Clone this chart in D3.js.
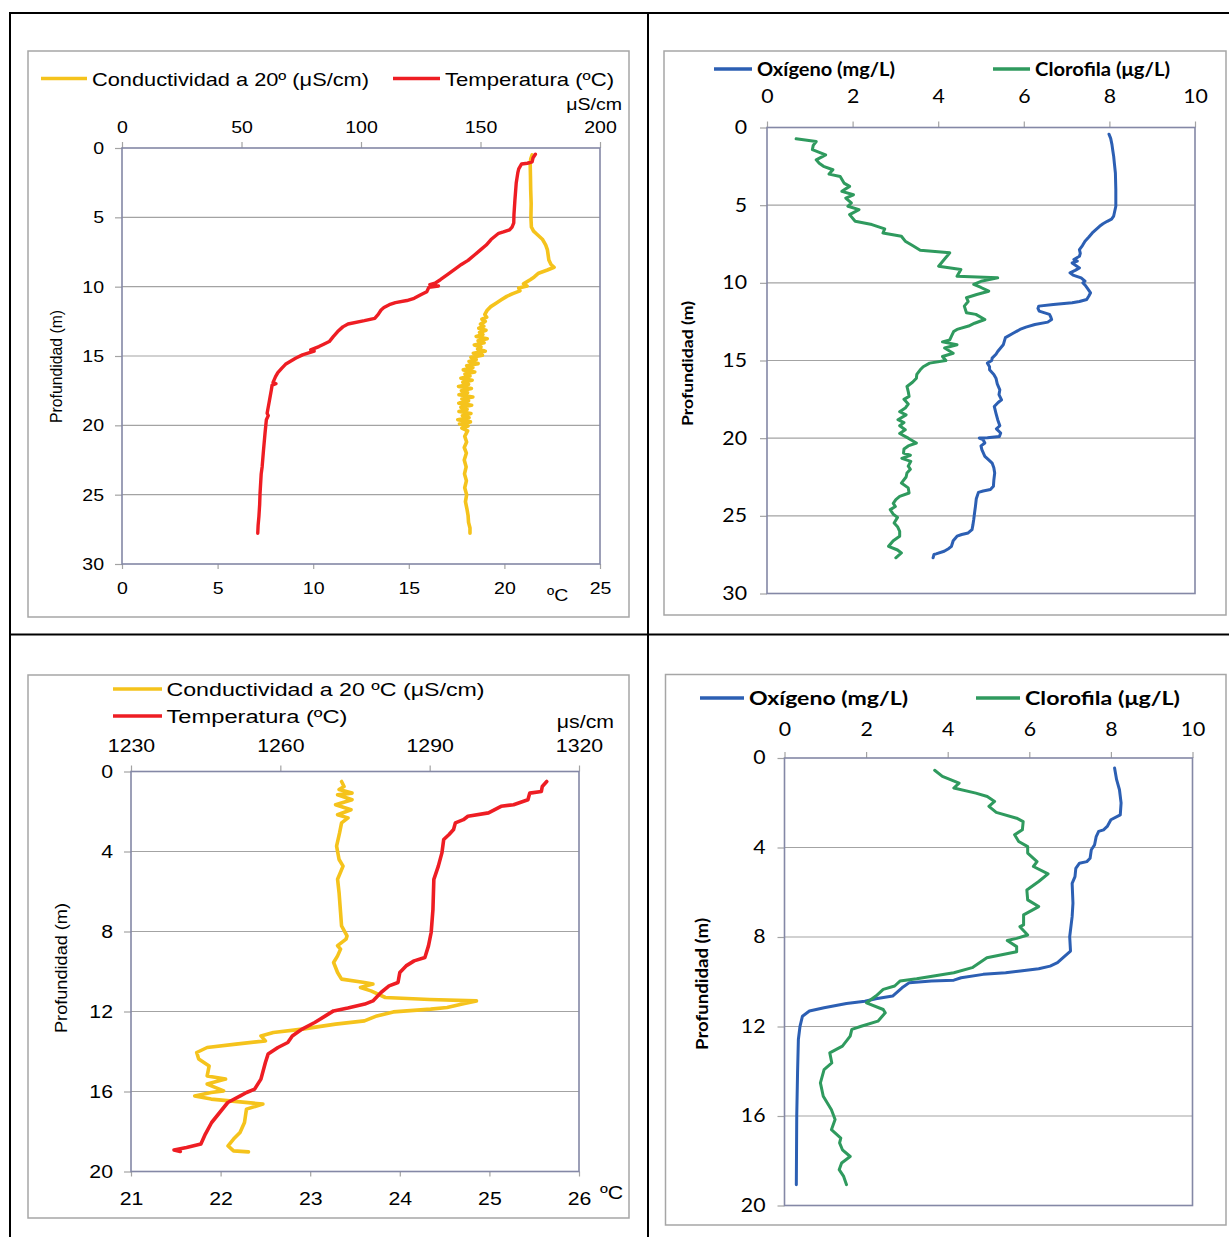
<!DOCTYPE html>
<html><head><meta charset="utf-8">
<script src="https://cdn.jsdelivr.net/npm/d3@7"></script>
<style>body{margin:0;background:#fff}svg{display:block}</style>
</head><body>
<svg id="c" width="1229" height="1237"></svg>
<script>
// ---------------- DATA ([profundidad m, valor]) ----------------
const p1Conductividad = [[0.5,171.6],[0.8,171.0],[1.2,170.8],[2.0,170.9],[3.0,171.0],[4.0,171.2],[5.0,171.1],[5.7,171.3],[6.0,172.2],[6.2,173.5],[6.6,176.0],[7.0,177.3],[7.35,178.0],[8.07,178.6],[8.4,179.5],[8.6,180.8],[8.8,178.0],[9.03,174.3],[9.3,172.5],[9.5,170.8],[9.8,168.0],[9.95,169.5],[10.1,166.0],[10.3,166.5],[10.5,163.5],[10.7,161.0],[10.95,158.7],[11.2,156.5],[11.44,154.3],[11.7,152.8],[12.0,151.8],[12.2,152.6],[12.35,150.6],[12.5,152.0],[12.7,150.0],[12.85,151.4],[13.0,149.3],[13.15,152.3],[13.3,149.6],[13.45,151.0],[13.6,148.2],[13.75,152.8],[13.9,149.0],[14.05,151.5],[14.2,147.4],[14.35,150.2],[14.5,148.8],[14.65,152.0],[14.8,147.0],[14.95,150.8],[15.1,146.0],[15.25,148.2],[15.4,145.2],[15.55,149.0],[15.7,144.2],[15.85,146.8],[16.0,142.8],[16.15,147.6],[16.3,143.5],[16.45,145.6],[16.6,141.8],[16.75,146.5],[16.9,142.6],[17.05,145.0],[17.2,140.8],[17.35,146.2],[17.5,142.0],[17.65,144.6],[17.8,141.0],[17.95,146.8],[18.1,142.2],[18.25,145.0],[18.4,140.9],[18.55,146.3],[18.7,141.8],[18.85,144.4],[19.0,141.0],[19.15,146.0],[19.3,142.4],[19.45,145.2],[19.6,140.5],[19.75,145.8],[19.9,141.2],[20.05,144.8],[20.2,142.2],[20.4,144.6],[20.8,143.4],[21.2,144.2],[21.6,143.2],[22.0,144.1],[22.5,143.2],[23.0,144.0],[23.5,143.3],[24.0,144.1],[24.5,143.4],[25.0,144.2],[25.5,143.7],[26.0,144.3],[26.5,144.8],[27.0,145.0],[27.4,145.6],[27.78,145.6]];
const p1Temperatura = [[0.45,21.62],[0.7,21.5],[1.0,21.45],[1.1,21.2],[1.15,20.9],[1.5,20.75],[1.8,20.7],[2.5,20.62],[3.75,20.55],[4.8,20.5],[5.4,20.49],[5.7,20.4],[5.9,20.27],[6.05,19.95],[6.15,19.7],[6.6,19.3],[7.0,19.05],[7.35,18.75],[7.7,18.45],[8.1,18.1],[8.4,17.75],[8.7,17.45],[9.15,17.0],[9.5,16.65],[9.75,16.37],[9.85,16.1],[9.95,16.55],[10.05,16.05],[10.36,15.94],[10.6,15.6],[10.84,15.28],[11.0,14.9],[11.15,14.3],[11.3,13.98],[11.5,13.7],[11.68,13.55],[12.0,13.4],[12.28,13.22],[12.45,12.68],[12.69,11.82],[12.9,11.55],[13.24,11.28],[13.6,11.05],[13.96,10.84],[14.15,10.55],[14.32,10.3],[14.56,9.87],[14.65,10.05],[14.92,9.44],[15.15,9.1],[15.4,8.79],[15.6,8.55],[15.89,8.35],[16.2,8.15],[16.49,8.03],[16.9,7.9],[17.0,8.05],[17.1,7.85],[17.45,7.81],[18.3,7.7],[19.13,7.59],[19.3,7.65],[19.6,7.55],[20.57,7.48],[21.8,7.4],[22.98,7.33],[23.5,7.28],[24.9,7.22],[25.7,7.2],[26.58,7.16],[27.2,7.12],[27.78,7.1]];

const p2Oxigeno = [[0.43,7.99],[0.7,8.03],[1.1,8.06],[1.5,8.08],[1.86,8.1],[2.4,8.12],[2.93,8.14],[4.0,8.15],[5.07,8.15],[5.7,8.1],[5.9,8.05],[6.04,7.95],[6.2,7.85],[6.36,7.77],[6.79,7.6],[7.05,7.52],[7.32,7.43],[7.6,7.37],[7.86,7.3],[8.1,7.32],[8.29,7.3],[8.5,7.17],[8.6,7.25],[8.72,7.13],[9.04,7.3],[9.2,7.2],[9.36,7.08],[9.5,7.15],[9.68,7.34],[9.89,7.43],[10.0,7.38],[10.21,7.45],[10.4,7.5],[10.64,7.56],[10.85,7.52],[11.07,7.47],[11.2,7.3],[11.28,7.13],[11.39,6.69],[11.5,6.35],[11.65,6.33],[11.82,6.36],[12.03,6.6],[12.2,6.63],[12.36,6.65],[12.53,6.56],[12.68,6.26],[12.85,6.05],[13.0,5.91],[13.25,5.75],[13.53,5.57],[13.99,5.52],[14.42,5.39],[14.6,5.35],[14.85,5.26],[15.0,5.25],[15.17,5.15],[15.4,5.2],[15.6,5.2],[15.9,5.3],[16.14,5.35],[16.5,5.38],[16.89,5.44],[17.2,5.42],[17.53,5.48],[17.7,5.4],[17.96,5.31],[18.4,5.35],[18.81,5.39],[19.2,5.44],[19.4,5.36],[19.67,5.46],[19.89,5.43],[19.97,5.15],[19.99,4.96],[20.1,5.05],[20.31,5.09],[20.5,5.0],[20.74,5.02],[21.17,5.09],[21.4,5.18],[21.6,5.26],[21.9,5.3],[22.24,5.32],[22.7,5.3],[23.1,5.29],[23.31,5.22],[23.4,5.05],[23.49,4.94],[23.9,4.89],[24.39,4.87],[24.8,4.85],[25.24,4.83],[25.6,4.81],[25.89,4.79],[26.1,4.7],[26.2,4.55],[26.31,4.44],[26.6,4.35],[26.96,4.31],[27.1,4.25],[27.28,4.14],[27.45,3.95],[27.49,3.9],[27.7,3.88]];
const p2Clorofila = [[0.73,0.68],[0.9,1.15],[1.15,1.08],[1.43,1.06],[1.76,1.37],[2.08,1.15],[2.3,1.22],[2.5,1.32],[2.72,1.54],[3.0,1.45],[3.15,1.71],[3.58,1.8],[3.79,1.93],[4.11,1.75],[4.33,2.02],[4.54,1.84],[4.86,1.97],[5.07,1.89],[5.29,2.15],[5.61,1.93],[6.04,2.06],[6.25,2.45],[6.53,2.75],[6.79,2.71],[7.0,3.14],[7.32,3.23],[7.6,3.4],[7.9,3.58],[8.07,4.27],[8.5,4.14],[8.93,4.01],[9.14,4.53],[9.57,4.44],[9.68,5.39],[9.9,5.0],[10.1,4.83],[10.3,5.0],[10.54,5.18],[10.75,4.9],[10.96,4.66],[11.2,4.7],[11.5,4.61],[11.93,4.66],[12.03,4.88],[12.36,5.09],[12.6,4.85],[12.78,4.71],[13.0,4.44],[13.14,4.36],[13.43,4.31],[13.67,4.27],[13.8,4.1],[13.99,4.44],[14.2,4.15],[14.53,4.35],[14.74,4.1],[15.0,4.18],[15.17,3.8],[15.4,3.65],[15.6,3.58],[15.9,3.5],[16.14,3.49],[16.4,3.4],[16.67,3.27],[17.0,3.3],[17.31,3.32],[17.5,3.2],[17.8,3.3],[18.06,3.23],[18.3,3.1],[18.5,3.25],[18.81,3.06],[19.0,3.2],[19.2,3.1],[19.46,3.23],[19.7,3.1],[20.0,3.3],[20.31,3.49],[20.5,3.3],[20.7,3.2],[20.96,3.19],[21.1,3.35],[21.3,3.15],[21.49,3.36],[21.8,3.3],[22.0,3.35],[22.24,3.27],[22.5,3.25],[22.89,3.14],[23.2,3.3],[23.53,3.32],[23.75,3.1],[23.96,3.01],[24.2,2.95],[24.4,3.0],[24.6,2.88],[24.9,2.95],[25.1,3.05],[25.46,2.97],[25.7,3.05],[26.0,3.1],[26.31,3.1],[26.6,2.95],[26.96,2.84],[27.2,3.05],[27.39,3.14],[27.7,3.01]];

const p3Conductividad = [[0.5,1272.3],[0.75,1272.8],[0.9,1271.8],[1.08,1274.4],[1.16,1271.5],[1.41,1274.4],[1.66,1271.1],[1.91,1274.2],[2.16,1271.5],[2.32,1273.6],[2.57,1272.3],[3.07,1271.9],[3.73,1271.3],[4.4,1271.8],[4.73,1272.6],[5.39,1271.5],[6.06,1271.8],[7.05,1272.1],[7.72,1272.3],[8.22,1273.4],[8.38,1273.2],[8.71,1271.5],[8.88,1272.1],[9.22,1271.5],[9.55,1270.7],[10.05,1271.5],[10.38,1272.3],[10.55,1276.9],[10.63,1278.6],[10.8,1276.1],[10.97,1278.2],[11.3,1281.1],[11.4,1290.0],[11.47,1299.4],[11.6,1297.0],[11.8,1293.5],[11.88,1290.2],[12.02,1282.7],[12.22,1279.4],[12.47,1276.9],[12.63,1271.1],[12.88,1264.4],[13.05,1258.6],[13.22,1256.1],[13.47,1257.0],[13.63,1251.1],[13.8,1245.3],[14.05,1243.2],[14.38,1243.6],[14.72,1245.7],[15.22,1245.3],[15.38,1249.0],[15.63,1245.3],[15.97,1248.6],[16.05,1246.1],[16.22,1242.8],[16.38,1246.1],[16.63,1256.5],[16.88,1253.2],[17.55,1252.8],[18.05,1251.9],[18.38,1250.6],[18.72,1249.5],[18.97,1250.6],[19.02,1253.6]];
const p3Temperatura = [[0.5,25.64],[0.75,25.59],[1.0,25.58],[1.08,25.45],[1.41,25.43],[1.66,25.27],[1.74,25.13],[2.07,24.99],[2.24,24.76],[2.41,24.71],[2.57,24.62],[2.9,24.6],[3.15,24.55],[3.4,24.49],[4.07,24.47],[4.73,24.43],[5.39,24.38],[6.89,24.37],[8.05,24.35],[8.72,24.32],[9.3,24.28],[9.47,24.16],[9.72,24.07],[10.05,24.0],[10.55,23.98],[10.72,23.88],[11.05,23.79],[11.47,23.7],[11.63,23.61],[11.83,23.42],[11.97,23.26],[12.22,23.17],[12.55,23.05],[12.88,22.91],[13.22,22.8],[13.55,22.75],[13.8,22.64],[14.13,22.53],[14.55,22.5],[15.38,22.45],[15.88,22.38],[16.05,22.29],[16.22,22.22],[16.55,22.08],[17.05,21.99],[17.55,21.9],[18.13,21.83],[18.63,21.78],[18.8,21.62],[18.92,21.48],[19.0,21.55]];

const p4Oxigeno = [[0.45,8.09],[0.97,8.14],[1.42,8.21],[2.01,8.25],[2.54,8.23],[2.76,8.0],[3.06,7.91],[3.21,7.82],[3.28,7.7],[3.51,7.64],[3.88,7.6],[4.1,7.52],[4.48,7.49],[4.63,7.41],[4.7,7.23],[4.93,7.14],[5.3,7.12],[5.6,7.05],[6.49,7.07],[7.09,7.05],[7.99,6.99],[8.63,7.01],[8.85,6.87],[9.15,6.69],[9.3,6.51],[9.42,6.23],[9.52,5.78],[9.6,5.42],[9.67,4.87],[9.82,4.33],[9.93,4.15],[9.97,3.6],[10.04,3.06],[10.27,2.88],[10.64,2.65],[10.76,2.24],[10.87,1.97],[10.97,1.52],[11.16,0.97],[11.31,0.61],[11.54,0.44],[11.99,0.38],[12.58,0.34],[14.07,0.32],[16.01,0.3],[19.07,0.29]];
const p4Clorofila = [[0.55,3.68],[0.82,3.87],[1.12,4.28],[1.34,4.15],[1.57,4.69],[1.72,4.97],[1.94,5.15],[2.16,5.01],[2.43,5.19],[2.69,5.69],[2.84,5.85],[3.21,5.83],[3.43,5.64],[3.73,5.74],[3.96,5.96],[4.25,5.96],[4.63,6.19],[4.85,6.1],[5.18,6.46],[5.52,6.23],[5.9,5.94],[6.34,5.96],[6.64,6.23],[7.01,5.86],[7.46,5.86],[7.54,5.77],[7.91,5.96],[8.06,5.69],[8.16,5.46],[8.43,5.69],[8.66,5.69],[8.93,4.96],[9.37,4.6],[9.6,4.15],[9.87,3.24],[9.97,2.83],[10.19,2.7],[10.34,2.42],[10.64,2.24],[10.94,2.01],[11.24,2.42],[11.39,2.47],[11.76,2.29],[11.99,1.88],[12.13,1.65],[12.43,1.61],[12.88,1.42],[13.18,1.11],[13.63,1.16],[13.93,0.97],[14.52,0.88],[15.12,0.95],[15.72,1.15],[16.16,1.24],[16.61,1.15],[16.99,1.38],[17.2,1.35],[17.51,1.42],[17.81,1.61],[18.1,1.4],[18.4,1.34],[18.7,1.45],[19.07,1.52]];

// ---------------- TICKS & LABELS ----------------
const p1CondTicks = [0, 50, 100, 150, 200];
const p1TempTicks = [0, 5, 10, 15, 20, 25];
const p1DepthTicks = [0, 5, 10, 15, 20, 25, 30];
const p2Ticks = [0, 2, 4, 6, 8, 10];
const p2DepthTicks = [0, 5, 10, 15, 20, 25, 30];
const p3CondTicks = [1230, 1260, 1290, 1320];
const p3TempTicks = [21, 22, 23, 24, 25, 26];
const p3DepthTicks = [0, 4, 8, 12, 16, 20];
const p4Ticks = [0, 2, 4, 6, 8, 10];
const p4DepthTicks = [0, 4, 8, 12, 16, 20];

const p1Names = ["Conductividad a 20º (μS/cm)", "Temperatura (ºC)"];
const p2Names = ["Oxígeno (mg/L)", "Clorofila (μg/L)"];
const p3Names = ["Conductividad a 20 ºC (μS/cm)", "Temperatura (ºC)"];
const p4Names = ["Oxígeno (mg/L)", "Clorofila (μg/L)"];
const yTitle = "Profundidad (m)";

// ---------------- STYLE ----------------
const S = 1.15; // horizontal stretch of the original's text
const ARIAL = "'Liberation Sans', Arial, sans-serif";
const NARROW = "'Liberation Sans Narrow', 'Liberation Sans', Arial, sans-serif";
const CAL = "Lato, Carlito, Calibri, sans-serif";
const YELLOW = "#F5C31C", RED = "#EE1D23", BLUE = "#2C5FB3", GREEN = "#2F9A5E";
const GRID = "#a3a3a3", PLOTBORDER = "#8488a6", BOX = "#a6a6a6";

const svg = d3.select("#c");

// outer table frame
const frame = svg.append("g").attr("stroke", "#000").attr("stroke-width", 2);
frame.append("line").attr("x1", 9).attr("x2", 1229).attr("y1", 13).attr("y2", 13);
frame.append("line").attr("x1", 10).attr("x2", 10).attr("y1", 12).attr("y2", 1237);
frame.append("line").attr("x1", 648).attr("x2", 648).attr("y1", 12).attr("y2", 1237);
frame.append("line").attr("x1", 9).attr("x2", 1229).attr("y1", 634.5).attr("y2", 634.5);

function label(g, x, y, txt, o) {
  const t = g.append("text")
    .attr("transform", `translate(${x},${y}) scale(${S},1)` + (o.rotate ? " rotate(-90)" : ""))
    .attr("text-anchor", o.anchor || "start")
    .attr("font-family", o.family).attr("font-size", o.size)
    .attr("font-weight", o.weight || "normal").attr("fill", "#000")
    .text(txt);
  if (o.dy) t.attr("dy", o.dy);
  if (o.len) t.attr("textLength", o.rotate ? o.len : o.len / S).attr("lengthAdjust", "spacingAndGlyphs");
  return t;
}

function styleAxis(ax, o) {
  ax.select(".domain").remove();
  ax.selectAll(".tick line").attr("stroke", GRID).attr("stroke-width", 1.2);
  ax.selectAll(".tick text")
    .attr("font-family", o.family).attr("font-size", o.size).attr("fill", "#000")
    .each(function () {
      const t = d3.select(this);
      const x = +t.attr("x") || 0;
      t.attr("x", x / S).attr("transform", `scale(${S},1)`);
    });
}

function panel(cfg) {
  const g = svg.append("g");
  g.append("rect").attr("x", cfg.box[0]).attr("y", cfg.box[1]).attr("width", cfg.box[2]).attr("height", cfg.box[3])
    .attr("fill", "#fff").attr("stroke", BOX).attr("stroke-width", 1.5);

  const [l, t, r, b] = cfg.plot;
  const y = d3.scaleLinear().domain([0, cfg.depthTicks[cfg.depthTicks.length - 1]]).range([t, b]);
  const xTop = d3.scaleLinear().domain(d3.extent(cfg.topTicks)).range([l, r]);
  const xBot = cfg.botTicks ? d3.scaleLinear().domain(d3.extent(cfg.botTicks)).range([l, r]) : null;

  // gridlines
  g.append("g").selectAll("line").data(cfg.depthTicks.slice(1, -1)).join("line")
    .attr("x1", l).attr("x2", r).attr("y1", d => y(d)).attr("y2", d => y(d))
    .attr("stroke", GRID).attr("stroke-width", 1.2);

  // axes
  const tf = { family: cfg.tickFamily, size: cfg.tickSize };
  const ay = g.append("g").attr("transform", `translate(${l},0)`)
    .call(d3.axisLeft(y).tickValues(cfg.depthTicks).tickSize(7).tickPadding(cfg.yPad - 7).tickFormat(d3.format("d")));
  styleAxis(ay, tf);
  const at = g.append("g").attr("transform", `translate(0,${t})`)
    .call(d3.axisTop(xTop).tickValues(cfg.topTicks).tickSize(6).tickPadding(cfg.topPad - 6).tickFormat(d3.format("d")));
  styleAxis(at, tf);
  if (xBot) {
    const ab = g.append("g").attr("transform", `translate(0,${b})`)
      .call(d3.axisBottom(xBot).tickValues(cfg.botTicks).tickSize(5).tickPadding(cfg.botPad - 5).tickFormat(d3.format("d")));
    styleAxis(ab, tf);
  }

  // plot area border
  g.append("rect").attr("x", l).attr("y", t).attr("width", r - l).attr("height", b - t)
    .attr("fill", "none").attr("stroke", PLOTBORDER).attr("stroke-width", 1.6);

  // series
  cfg.series.forEach(s => {
    const xs = s.axis === "bottom" ? xBot : xTop;
    g.append("path").datum(s.data)
      .attr("d", d3.line().x(d => xs(d[1])).y(d => y(d[0])))
      .attr("fill", "none").attr("stroke", s.color).attr("stroke-width", s.width)
      .attr("stroke-linejoin", "round").attr("stroke-linecap", "round");
  });

  // legend
  cfg.legend.forEach(it => {
    g.append("line").attr("x1", it.lx[0]).attr("x2", it.lx[1]).attr("y1", it.ly).attr("y2", it.ly)
      .attr("stroke", it.color).attr("stroke-width", 3.5);
    label(g, it.tx, it.ty, it.text, { family: cfg.legendFamily, size: cfg.legendSize, weight: cfg.legendWeight, len: it.len });
  });

  // units
  (cfg.units || []).forEach(u => label(g, u.x, u.y, u.text, { family: cfg.tickFamily, size: u.size || cfg.tickSize, anchor: u.anchor }));

  // y title
  const yt = cfg.title;
  label(g, yt.x, yt.y, yTitle, { family: yt.family, size: yt.size, weight: yt.weight, anchor: "middle", rotate: true, dy: "0.35em", len: yt.len });
}

// ---------------- PANELS ----------------
panel({
  box: [28, 51, 601, 566], plot: [122, 148, 600, 564],
  depthTicks: p1DepthTicks, topTicks: p1CondTicks, botTicks: p1TempTicks,
  tickFamily: ARIAL, tickSize: 17, yPad: 18, topPad: 15.5, botPad: 18,
  series: [
    { data: p1Conductividad, axis: "top", color: YELLOW, width: 3.6 },
    { data: p1Temperatura, axis: "bottom", color: RED, width: 3.4 }
  ],
  legendFamily: ARIAL, legendSize: 18, legendWeight: "normal",
  legend: [
    { lx: [41, 87], ly: 78.5, color: YELLOW, tx: 92, ty: 85.5, text: p1Names[0], len: 277 },
    { lx: [393, 440], ly: 78.5, color: RED, tx: 445, ty: 85.5, text: p1Names[1], len: 169 }
  ],
  units: [
    { x: 622, y: 110, text: "μS/cm", anchor: "end" },
    { x: 547, y: 601, text: "ºC", anchor: "start" }
  ],
  title: { x: 56.5, y: 366.5, family: NARROW, size: 14, weight: "normal", len: 113 }
});

panel({
  box: [664, 51, 562, 564], plot: [767, 127.5, 1195, 593.5],
  depthTicks: p2DepthTicks, topTicks: p2Ticks, botTicks: null,
  tickFamily: CAL, tickSize: 18.5, yPad: 20, topPad: 25,
  series: [
    { data: p2Oxigeno, axis: "top", color: BLUE, width: 3 },
    { data: p2Clorofila, axis: "top", color: GREEN, width: 3 }
  ],
  legendFamily: CAL, legendSize: 18.5, legendWeight: "bold",
  legend: [
    { lx: [714, 752], ly: 69, color: BLUE, tx: 757, ty: 75.5, text: p2Names[0], len: 138 },
    { lx: [993, 1030], ly: 69, color: GREEN, tx: 1035, ty: 75.5, text: p2Names[1], len: 135 }
  ],
  title: { x: 687.5, y: 363.5, family: CAL, size: 13.5, weight: "bold", len: 125 }
});

panel({
  box: [28, 675, 601, 543], plot: [131, 771.5, 579, 1171.5],
  depthTicks: p3DepthTicks, topTicks: p3CondTicks, botTicks: p3TempTicks,
  tickFamily: ARIAL, tickSize: 18.5, yPad: 18, topPad: 20, botPad: 20,
  series: [
    { data: p3Conductividad, axis: "top", color: YELLOW, width: 3.6 },
    { data: p3Temperatura, axis: "bottom", color: RED, width: 3.6 }
  ],
  legendFamily: ARIAL, legendSize: 18.5, legendWeight: "normal",
  legend: [
    { lx: [113, 162], ly: 689, color: YELLOW, tx: 166.5, ty: 696, text: p3Names[0], len: 318 },
    { lx: [113, 162], ly: 716, color: RED, tx: 166.5, ty: 723, text: p3Names[1], len: 181 }
  ],
  units: [
    { x: 614, y: 728, text: "μs/cm", anchor: "end" },
    { x: 600, y: 1199, text: "ºC", anchor: "start" }
  ],
  title: { x: 61, y: 968, family: NARROW, size: 15, weight: "normal", len: 130 }
});

panel({
  box: [665.5, 674.5, 560.5, 550.5], plot: [784.5, 758, 1192.5, 1205.5],
  depthTicks: p4DepthTicks, topTicks: p4Ticks, botTicks: null,
  tickFamily: CAL, tickSize: 18.5, yPad: 19, topPad: 22,
  series: [
    { data: p4Oxigeno, axis: "top", color: BLUE, width: 3 },
    { data: p4Clorofila, axis: "top", color: GREEN, width: 3 }
  ],
  legendFamily: CAL, legendSize: 18.5, legendWeight: "bold",
  legend: [
    { lx: [700, 744], ly: 698, color: BLUE, tx: 749, ty: 704.5, text: p4Names[0], len: 159 },
    { lx: [976, 1020], ly: 698, color: GREEN, tx: 1025, ty: 704.5, text: p4Names[1], len: 155 }
  ],
  title: { x: 702, y: 984, family: CAL, size: 14, weight: "bold", len: 132 }
});
</script>
</body></html>
